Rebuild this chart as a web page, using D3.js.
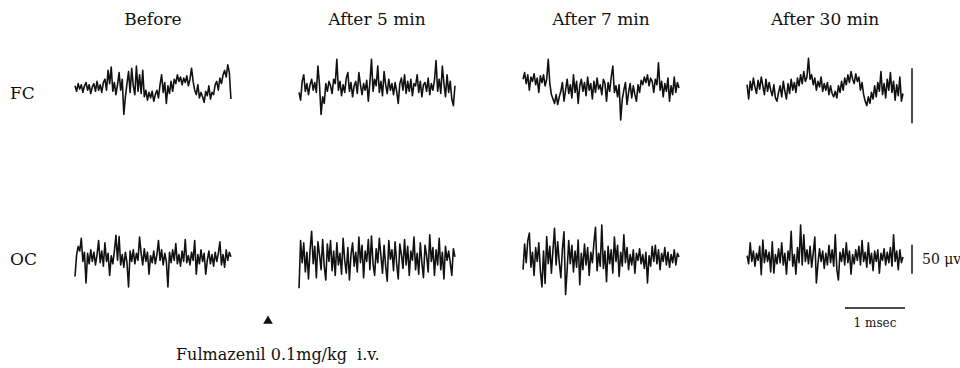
<!DOCTYPE html>
<html>
<head>
<meta charset="utf-8">
<script src="https://cdn.jsdelivr.net/npm/d3@7"></script>
<style>
  body { margin: 0; background: #fff; }
  svg text { font-family: "DejaVu Serif", "Liberation Serif", serif; fill: #111; }
</style>
</head>
<body>
<svg id="chart" width="960" height="368"></svg>
<script>
// columns and rows of the figure
const conditions = ["Before", "After 5 min", "After 7 min", "After 30 min"];
const regions = ["FC", "OC"];

// EEG samples in microvolts (100 samples per trace)
const fcBefore = [2,-3,4,-1,3,-4,2,5,-2,3, -5,1,4,-3,6,-2,3,-4,5,8, -2,16,4,19,-3,5,-6,3,14,-2,
  8,-24,-8,4,15,-4,18,2,-6,20, -3,12,-5,16,-8,-2,-11,-4,-9,-3, -12,-6,-2,-9,3,12,-4,5,-14,2,
  -5,6,-3,8,4,12,6,10,3,9, 5,11,2,8,18,6,-2,-6,3,-9, -4,-8,-13,-3,-7,2,-10,-4,-6,3,
  6,-2,9,4,12,16,10,21,14,-10];
const fcAfter5 = [-4,-11,6,12,-3,4,-6,3,8,-2, 5,-4,20,3,-24,-8,-14,4,-3,6, 2,-5,8,4,26,-2,6,-7,3,-4,
  9,14,-3,5,-8,2,6,-5,14,3, -6,4,-2,7,-12,5,26,-3,8,2, 20,-4,6,-7,15,3,-5,8,-2,4,
  -6,5,-3,-14,4,9,-2,12,-5,6, -3,8,-7,4,2,12,-4,6,-8,3, 5,-3,9,-6,4,-2,7,25,-3,8,
  -5,20,4,-8,12,-4,6,-10,-16,2];
const fcAfter7 = [8,14,4,12,-2,10,6,13,3,9, -4,11,5,12,2,8,26,4,-6,-10, -14,-6,-15,-8,-3,5,-12,-2,8,-5,
  3,-9,12,-4,6,-14,2,8,-3,5, -7,10,-2,4,-10,6,-4,9,-1,3, -6,8,4,-12,5,-3,10,20,-4,2,
  -8,3,-29,-10,-2,5,-15,-4,4,-9, 2,-6,-12,3,-4,7,3,10,5,12, 2,9,6,-4,8,3,23,-2,6,-8,
  4,-3,9,-12,2,-6,10,-4,5,0];
const fcAfter30 = [3,-10,6,-2,9,1,-5,7,-1,10, 2,-6,8,-3,5,-2,-7,3,-9,-12, -4,2,-8,6,-3,-10,4,-5,8,-2,
  5,-4,9,2,12,4,15,6,10,27, 8,12,3,9,-2,6,1,10,-3,4, -2,5,-6,2,-5,-8,-3,-9,2,-4,
  6,-2,9,3,12,5,15,8,4,13, 6,10,-2,5,-6,-12,-16,-8,-14,-4, -10,2,-8,5,-3,15,-6,4,-9,8,
  -2,14,-4,6,-11,3,-7,10,-12,-5];

const ocBefore = [-32,5,20,12,34,-6,10,-43,8,-10, 14,-6,10,-12,6,30,-8,12,-14,26, -6,8,-30,4,-10,12,39,-4,37,-12,
  6,-16,10,-8,-50,12,-6,14,-10,8, -4,36,8,-12,16,-6,10,-28,4,-8, 12,-10,6,30,-4,14,-12,8,-6,-50,
  10,-8,14,-4,25,-10,6,-14,12,-6, 32,-8,4,-12,10,-4,30,-28,6,-10, 14,-6,8,-28,-4,12,-10,6,-14,10,
  -6,8,28,-12,6,-16,14,-4,10,2];
const ocAfter5 = [-52,30,-8,26,-24,10,-36,14,46,-10, 20,-34,28,6,-20,32,-14,-38,24,-6, 30,-22,12,-30,26,-12,8,-28,34,-4,
  -26,18,-38,6,26,-14,10,-24,36,-8, 22,-34,12,-6,32,-20,38,-10,-30,16, -8,34,4,-26,22,-14,-40,30,-2,14,
  -22,28,-10,-36,24,6,-18,32,-12,20, -30,12,-4,36,-20,8,-28,26,-8,-34, 22,4,-24,40,-6,18,-30,14,-12,34,
  -20,10,-36,20,-4,12,-8,-30,16,2];
const ocAfter7 = [-20,24,-8,30,43,-16,10,-30,18,-6, 26,-22,-50,12,-44,37,-10,20,-26,14, 51,-12,28,-8,-34,16,45,-63,-20,30,
  -10,22,-24,12,-16,31,-46,8,-20,24, -12,18,-30,10,-8,26,53,-22,8,-14, 57,-18,12,-41,20,-10,14,-26,36,-6,
  22,-32,10,-14,40,-8,18,-20,6,-12, 14,-26,8,-4,16,-10,6,-18,10,-43, 4,-14,20,-6,22,-10,14,-20,8,-6,
  18,-12,10,-16,6,-8,14,-12,8,2];
const ocAfter30 = [4,-10,26,-6,12,-14,8,-4,20,-29, 31,-8,14,-6,10,-24,28,-26,6,-10, 16,-8,26,-12,8,-28,12,-4,46,-14,
  6,-28,18,-8,57,-12,40,-6,14,-10, 20,-16,8,36,-43,-10,16,-6,12,-18, 8,-12,22,-8,14,-14,40,-20,-38,10,
  -6,16,-12,26,-8,12,-28,6,-10,14, -4,20,-12,30,-6,10,-16,26,-10,8, -22,12,-6,14,-26,8,-4,16,-12,10,
  -8,18,-14,40,-6,12,-20,14,-8,2];

const traces = {
  FC: [fcBefore, fcAfter5, fcAfter7, fcAfter30],
  OC: [ocBefore, ocAfter5, ocAfter7, ocAfter30]
};

const sweep = 2.6;          // msec shown per trace
const voltBar = 50;         // calibration, microvolts
const timeBar = 1;          // calibration, msec

const svg = d3.select("#chart");

// panels across
const xBand = d3.scaleBand()
  .domain(conditions)
  .range([75, 903])
  .paddingInner(0.304);

const xTime = d3.scaleLinear()
  .domain([0, sweep])
  .range([0, xBand.bandwidth()]);

// one vertical scale per row (different gains)
const yRow = {
  FC: d3.scaleLinear().domain([-25, 25]).range([88 + 27.5, 88 - 27.5]),
  OC: d3.scaleLinear().domain([-25, 25]).range([258 + 14.5, 258 - 14.5])
};

// column titles
svg.selectAll("text.title")
  .data(conditions)
  .join("text")
    .attr("class", "title")
    .attr("x", d => xBand(d) + xBand.bandwidth() / 2)
    .attr("y", 25)
    .attr("text-anchor", "middle")
    .attr("font-size", 17)
    .text(d => d);

// row labels
svg.selectAll("text.region")
  .data(regions)
  .join("text")
    .attr("class", "region")
    .attr("x", 10)
    .attr("y", d => yRow[d](0) + (d === "FC" ? 11 : 7))
    .attr("font-size", 17)
    .attr("font-weight", 300)
    .text(d => d);

// traces
regions.forEach(r => {
  const y = yRow[r];
  traces[r].forEach((vals, ci) => {
    const x0 = xBand(conditions[ci]);
    const dt = sweep / (vals.length - 1);
    const line = d3.line()
      .x((d, i) => x0 + xTime(i * dt))
      .y(d => y(d));
    svg.append("path")
      .datum(vals)
      .attr("d", line)
      .attr("fill", "none")
      .attr("stroke", "#111")
      .attr("stroke-width", 1.6)
      .attr("stroke-linejoin", "round");
  });
});

// voltage calibration bars
const barX = 912;
svg.append("line")
  .attr("x1", barX).attr("x2", barX)
  .attr("y1", yRow.FC(-32)).attr("y2", yRow.FC(-32 + voltBar))
  .attr("stroke", "#111").attr("stroke-width", 1.5);

svg.append("line")
  .attr("x1", barX).attr("x2", barX)
  .attr("y1", yRow.OC(-27)).attr("y2", yRow.OC(-27 + voltBar))
  .attr("stroke", "#111").attr("stroke-width", 1.5);

svg.append("text")
  .attr("x", 922)
  .attr("y", yRow.OC(0) + 6)
  .attr("font-size", 14)
  .text(voltBar + " μv");

// time calibration bar
const tx0 = 845;
svg.append("line")
  .attr("x1", tx0).attr("x2", tx0 + xTime(timeBar) - xTime(0))
  .attr("y1", 308).attr("y2", 308)
  .attr("stroke", "#111").attr("stroke-width", 1.5);

svg.append("text")
  .attr("x", tx0 + (xTime(timeBar) - xTime(0)) / 2)
  .attr("y", 327)
  .attr("text-anchor", "middle")
  .attr("font-size", 12)
  .text(timeBar + " msec");

// injection marker
svg.append("path")
  .attr("d", d3.symbol().type(d3.symbolTriangle).size(40))
  .attr("transform", "translate(268,321)")
  .attr("fill", "#111");

svg.append("text")
  .attr("x", 176)
  .attr("y", 360)
  .attr("font-size", 16)
  .style("white-space", "pre")
  .text("Fulmazenil 0.1mg/kg  i.v.");
</script>
</body>
</html>
